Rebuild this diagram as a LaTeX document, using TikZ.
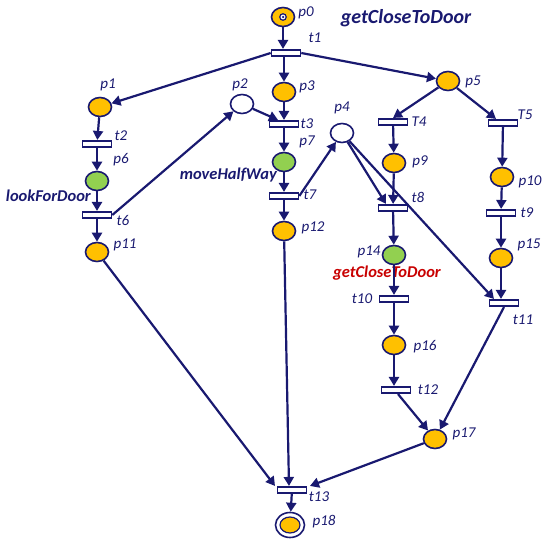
\documentclass[tikz,border=0pt]{standalone}
\usepackage{fontspec}
\setmainfont{Carlito}
\usetikzlibrary{arrows.meta,shapes.geometric}
\definecolor{navy}{RGB}{25,25,112}
\definecolor{pyel}{RGB}{255,192,0}
\definecolor{pgrn}{RGB}{146,208,80}
\definecolor{tred}{RGB}{200,0,0}
\begin{document}
\begin{tikzpicture}[x=1pt,y=-1pt,
 place/.style={ellipse,draw=navy,line width=1.6pt,fill=pyel,minimum width=23pt,minimum height=19pt,inner sep=0},
 gplace/.style={place,fill=pgrn},
 wplace/.style={place,fill=white},
 trans/.style={rectangle,draw=navy,line width=1.6pt,fill=white,minimum width=29pt,minimum height=6.5pt,inner sep=0},
 arc/.style={navy,line width=2.2pt,-{Triangle[length=9pt,width=10pt]}},
 lbl/.style={text=navy,font=\fontsize{15}{17}\selectfont\itshape,inner sep=0},
 blbl/.style={text=navy,font=\fontsize{16.5}{18}\selectfont\bfseries\itshape,inner sep=0}]
\useasboundingbox (0,0) rectangle (550,543);
% places
\node[place] (p0) at (283,17) {};
\node[place] (p1) at (100,107) {};
\node[place] (p3) at (284,92) {};
\node[place] (p5) at (448,81) {};
\node[wplace] (p2) at (242,104) {};
\node[gplace] (p6) at (97,181) {};
\node[place] (p11) at (97,252) {};
\node[gplace] (p7) at (284,162) {};
\node[place] (p12) at (284,231) {};
\node[wplace] (p4) at (342,133) {};
\node[place] (p9) at (394,163) {};
\node[place] (p10) at (502,177) {};
\node[gplace] (p14) at (394,255) {};
\node[place] (p15) at (501,258) {};
\node[place] (p16) at (394,345) {};
\node[place] (p17) at (435,439) {};
\node[place,fill=white,minimum width=29pt,minimum height=25pt] (p18) at (290,525) {};
\node[place,line width=1.2pt,minimum width=20pt,minimum height=16pt] (p18i) at (p18) {};
% token
\node[circle,draw=navy,line width=1.2pt,fill=white,minimum size=6.5pt,inner sep=0] (tok) at (p0) {};
\node[circle,fill=navy,minimum size=2.5pt,inner sep=0] (tokc) at (p0) {};
% transitions
\node[trans] (t1) at (286,53) {};
\node[trans] (t2) at (97,144) {};
\node[trans] (t6) at (97,215) {};
\node[trans] (t3) at (284,124) {};
\node[trans] (t7) at (284,196) {};
\node[trans] (T4) at (393,122) {};
\node[trans] (T5) at (503,123) {};
\node[trans] (t8) at (393,208) {};
\node[trans] (t9) at (501,213) {};
\node[trans] (t10) at (394,299) {};
\node[trans] (t11) at (504,303) {};
\node[trans] (t12) at (396,390) {};
\node[trans] (t13) at (292,490) {};
% labels
\node[lbl] (lp0) at (306,13) {p0};
\node[lbl] (lt1) at (315,38) {t1};
\node[lbl] (lp1) at (108,85) {p1};
\node[lbl] (lp2) at (240,85) {p2};
\node[lbl] (lp3) at (307,87) {p3};
\node[lbl] (lt3) at (307,124) {t3};
\node[lbl] (lp7) at (307,142) {p7};
\node[lbl] (lt7) at (310,195) {t7};
\node[lbl] (lp12) at (313,228) {p12};
\node[lbl] (lp4) at (342,108) {p4};
\node[lbl] (lp5) at (473,82) {p5};
\node[lbl] (lT4) at (419,122) {T4};
\node[lbl] (lT5) at (525,115) {T5};
\node[lbl] (lp9) at (420,162) {p9};
\node[lbl] (lp10) at (530,182) {p10};
\node[lbl] (lt8) at (418,197) {t8};
\node[lbl] (lt9) at (527,213) {t9};
\node[lbl] (lp14) at (369,252) {p14};
\node[lbl] (lp15) at (529,245) {p15};
\node[lbl] (lt10) at (362,299) {t10};
\node[lbl] (lt11) at (523,320) {t11};
\node[lbl] (lp16) at (425,347) {p16};
\node[lbl] (lt12) at (428,390) {t12};
\node[lbl] (lp17) at (464,434) {p17};
\node[lbl] (lt13) at (319,497) {t13};
\node[lbl] (lp18) at (324,522) {p18};
\node[lbl] (lt2) at (121,136) {t2};
\node[lbl] (lp6) at (121,160) {p6};
\node[lbl] (lt6) at (123,220) {t6};
\node[lbl] (lp11) at (125,245) {p11};
\node[blbl,anchor=east] (lfd) at (91,196) {lookForDoor};
\node[blbl,anchor=east] (mhw) at (277,175) {moveHalfWay};
\node[blbl,anchor=west,text=tred] (gcd) at (333,273) {getCloseToDoor};
\node[blbl,font=\fontsize{20}{22}\selectfont\bfseries\itshape] (title) at (406,18) {getCloseToDoor};
% arcs
\draw[arc] (p0) -- (p0 |- t1.north);
\draw[arc] (t1.west) -- (p1);
\draw[arc] (t1.south -| p3) -- (p3);
\draw[arc] (t1.east) -- (p5);
\draw[arc] (p1) -- (t2);
\draw[arc] (t2) -- (p6);
\draw[arc] (p6) -- (t6);
\draw[arc] (t6) -- (p11);
\draw[arc] (t6.east) -- (p2);
\draw[arc] (p2) -- ([xshift=-6pt]t3.north);
\draw[arc] (p3) -- (t3);
\draw[arc] (t3) -- (p7);
\draw[arc] (p7) -- (t7);
\draw[arc] (t7) -- (p12);
\draw[arc] (t7.east) -- (p4);
\draw[arc] (p4) -- ([xshift=-7pt]t8.north);
\draw[arc] (p4) -- ([xshift=-10pt]t11.north);
\draw[arc] (p5) -- (T4.north);
\draw[arc] (p5) -- ([xshift=-7pt]T5.north);
\draw[arc] (T4) -- (p9);
\draw[arc] (p9) -- (t8);
\draw[arc] (t8) -- (p14);
\draw[arc] (T5) -- (p10);
\draw[arc] (p10) -- (t9);
\draw[arc] (t9) -- (p15);
\draw[arc] (p15) -- (p15 |- t11.north);
\draw[arc] (p14) -- (t10);
\draw[arc] (t10) -- (p16);
\draw[arc] (p16) -- (p16 |- t12.north);
\draw[arc] ([xshift=2pt]t12.south) -- (p17);
\draw[arc] (t11.south) -- (p17);
\draw[arc] (p11) -- ([xshift=-17pt]t13.north);
\draw[arc] (p12) -- ([xshift=-3pt]t13.north);
\draw[arc] (p17) -- ([xshift=18pt]t13.north);
\draw[arc] (t13) -- (p18);
\end{tikzpicture}
\end{document}
